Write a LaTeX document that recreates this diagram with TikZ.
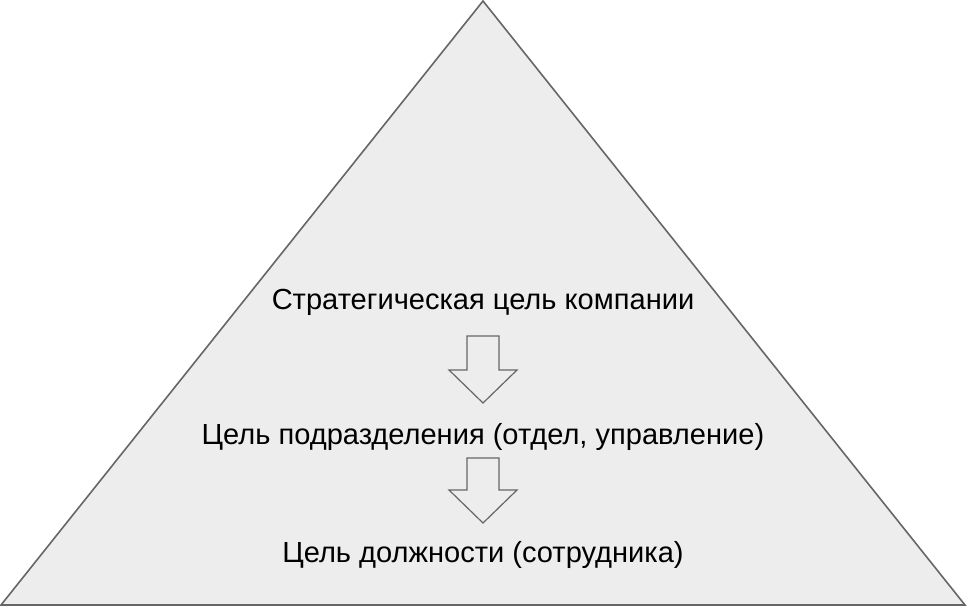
\documentclass[tikz,border=0pt]{standalone}
\usepackage{fontspec}
\setmainfont{Liberation Sans}
\begin{document}
\begin{tikzpicture}[x=0.75pt,y=-0.75pt,
  pyrshape/.style={draw=black!60,fill=black!7,line width=1.2pt,line join=miter},
  lbl/.style={font=\fontsize{21.8}{25}\selectfont,inner sep=0pt}]
\useasboundingbox (0,0) rectangle (967,606);
\draw[pyrshape] (483,1) -- (965,605) -- (1,605) -- cycle;
\node[lbl] (t1) at (483,302) {Стратегическая цель компании};
\node[lbl] (t2) at (483,437) {Цель подразделения (отдел, управление)};
\node[lbl] (t3) at (483,555) {Цель должности (сотрудника)};
\draw[pyrshape,line width=0.9pt] (467,336) -- (499,336) -- (499,370) -- (517,370) -- (483,403) -- (449,370) -- (467,370) -- cycle;
\draw[pyrshape,line width=0.9pt] (467,458) -- (499,458) -- (499,490) -- (517,490) -- (483,523) -- (449,490) -- (467,490) -- cycle;
\end{tikzpicture}
\end{document}
